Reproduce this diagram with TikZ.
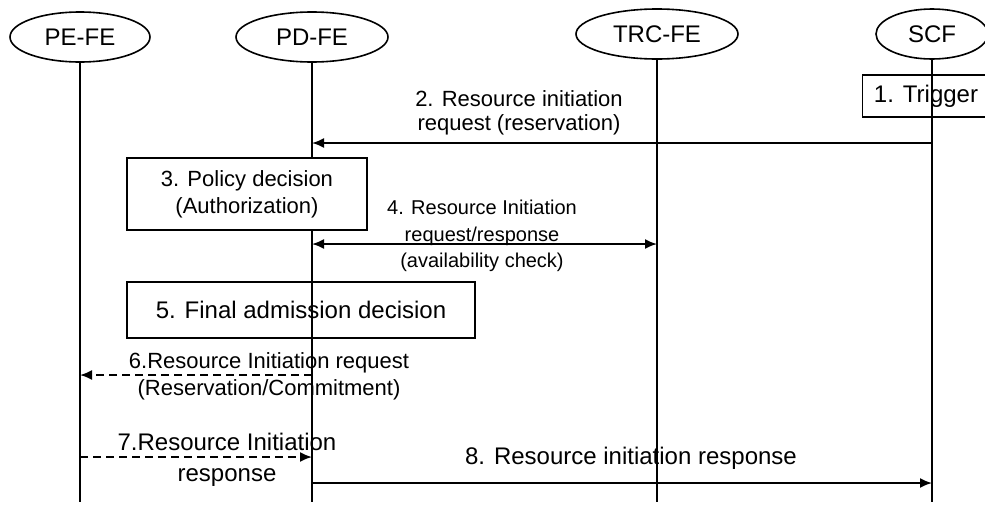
\documentclass[tikz,border=0pt]{standalone}
\usepackage{fontspec}
\setmainfont{Liberation Sans}
\usetikzlibrary{shapes.geometric,arrows.meta}
\newcommand\fs[2]{\fontsize{#1}{#2}\selectfont}
\tikzset{
ent/.style={draw,ellipse,line width=0.8pt,minimum height=25pt,inner sep=0pt,font=\fs{12}{14}},
life/.style={line width=0.9pt},
stepbox/.style={draw,line width=0.9pt,align=center,inner sep=0pt},
msg/.style={line width=0.9pt,->},
reply/.style={msg,dash pattern=on 4pt off 2.5pt},
lbl/.style={align=center,inner sep=0pt},
>={Latex[length=6pt,width=5pt]}
}
\begin{document}
\begin{tikzpicture}[x=0.5pt,y=-0.5pt]
\useasboundingbox (0,0) rectangle (985,509);
\foreach\n/\x/\y/\w/\t in{pe/80/37/70/PE-FE,pd/312/37/76/PD-FE,trc/657/34/81/TRC-FE,scf/932/34/56/SCF}{
\node[ent,minimum width=\w pt] (\n) at (\x,\y) {\t};
\coordinate (\n-end) at (\x,502);
\draw[life] (\n) -- (\n-end);
\foreach\m/\h in{2/143,4/244,6/375,7/457,8/483} \coordinate (\n-\m) at (\n |- 0,\h);
}
\node[stepbox,minimum width=63.5pt,minimum height=21pt,font=\fs{12}{14}] (trig) at (926,96) {1. Trigger};
\draw[msg] (scf-2) -- (pd-2);
\node[lbl,font=\fs{11}{12}] (l2) at (519,113) {2. Resource initiation\\request (reservation)};
\node[stepbox,fill=white,minimum width=120pt,minimum height=36pt,font=\fs{11}{13.5}] (pol) at (247,194) {3. Policy decision\\(Authorization)};
\draw[msg,<->] (pd-4) -- (trc-4);
\node[lbl,font=\fs{10}{13.25}] (l4) at (482,236) {4. Resource Initiation\\request/response\\(availability check)};
\node[stepbox,minimum width=174pt,minimum height=28pt,font=\fs{12}{14}] (adm) at (301,310) {5. Final admission decision};
\draw[reply] (pd-6) -- (pe-6);
\node[lbl,font=\fs{11}{13.5}] (l6) at (269,376) {6.Resource Initiation request\\(Reservation/Commitment)};
\draw[reply] (pe-7) -- (pd-7);
\node[lbl,font=\fs{12}{15.5}] (l7) at (227,460) {7.Resource Initiation\\response};
\draw[msg] (pd-8) -- (scf-8);
\node[lbl,font=\fs{12}{14}] (l8) at (631,458) {8. Resource initiation response};
\end{tikzpicture}
\end{document}
